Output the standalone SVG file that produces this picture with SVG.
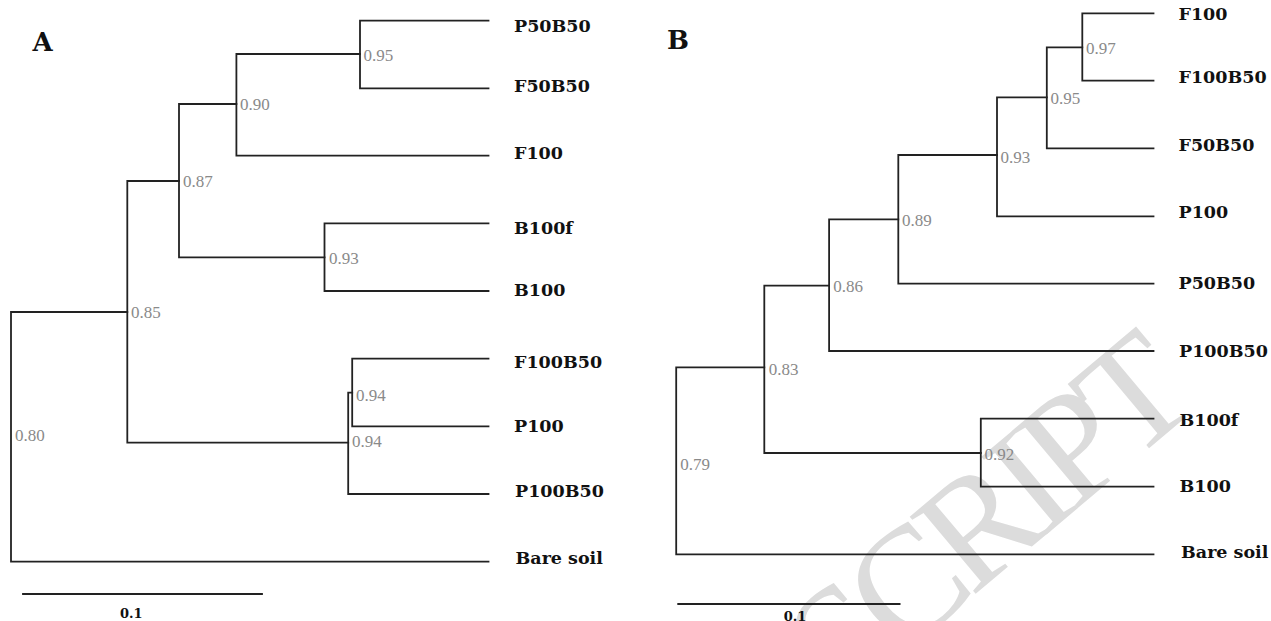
<svg xmlns="http://www.w3.org/2000/svg" width="1271" height="621" viewBox="0 0 1271 621">
<style>
.br{fill:none;stroke:#222;stroke-width:1.8;stroke-linejoin:miter;stroke-linecap:square}
.leaf{font-family:"DejaVu Serif","Liberation Serif",serif;font-weight:bold;font-size:17.5px;fill:#111}
.bs{font-family:"Liberation Serif","DejaVu Serif",serif;font-size:17px;fill:#8a8a8a}
.pl{font-family:"DejaVu Serif","Liberation Serif",serif;font-weight:bold;font-size:26px;fill:#111}
.sc{font-family:"DejaVu Serif","Liberation Serif",serif;font-weight:bold;font-size:13px;fill:#111}
.wm{font-family:"Liberation Serif","Times New Roman",serif;font-size:155px;letter-spacing:-11px;fill:#dcdcdc}
</style>
<rect width="1271" height="621" fill="#fff"/>
<text class="wm" transform="translate(843,705) rotate(-40)">SCRIPT</text>

<g id="connectors">
<path class="br" d="M488.5,20.7H360V88.3H488.5"/>
<path class="br" d="M360,54H236.4V155.7H488.5"/>
<path class="br" d="M236.4,104H179V257.3H324.5"/>
<path class="br" d="M488.5,223.3H324.5V291H488.5"/>
<path class="br" d="M179,181H127.3V442.7H348.2"/>
<path class="br" d="M488.5,358.7H352.2V426.3H488.5"/>
<path class="br" d="M352.2,392.7H348.2V494H488.5"/>
<path class="br" d="M127.3,312H11V561.7H488.5"/>
<path class="br" d="M23,594H262"/>

<path class="br" d="M1153.5,13.3H1082.3V80.7H1153.5"/>
<path class="br" d="M1082.3,47.3H1046.8V148.3H1153.5"/>
<path class="br" d="M1046.8,97.3H997V216.3H1153.5"/>
<path class="br" d="M997,155H898.3V283.7H1153.5"/>
<path class="br" d="M898.3,219.3H829.1V351H1153.5"/>
<path class="br" d="M829.1,285.7H764.3V453H980.8"/>
<path class="br" d="M1153.5,418.7H980.8V486.7H1153.5"/>
<path class="br" d="M764.3,367.3H676.2V554.3H1153.5"/>
<path class="br" d="M678.2,604H899.6"/>
</g>

<g id="panelA-label"><text class="pl" x="32.5" y="51">A</text></g>
<g id="panelB-label"><text class="pl" x="667" y="49.3">B</text></g>

<g id="A-P50B50"><text class="leaf" x="514" y="31.7">P50B50</text></g>
<g id="A-F50B50"><text class="leaf" x="514" y="92.3">F50B50</text></g>
<g id="A-F100"><text class="leaf" x="514" y="159.3">F100</text></g>
<g id="A-B100f"><text class="leaf" x="514" y="234.3">B100f</text></g>
<g id="A-B100"><text class="leaf" x="514" y="296">B100</text></g>
<g id="A-F100B50"><text class="leaf" x="514" y="368.3">F100B50</text></g>
<g id="A-P100"><text class="leaf" x="514" y="431.7">P100</text></g>
<g id="A-P100B50"><text class="leaf" x="515" y="497.3">P100B50</text></g>
<g id="A-Baresoil"><text class="leaf" x="515.5" y="564">Bare soil</text></g>

<g id="A-n095"><text class="bs" x="363.6" y="61">0.95</text></g>
<g id="A-n090"><text class="bs" x="240" y="109.5">0.90</text></g>
<g id="A-n087"><text class="bs" x="183" y="187.3">0.87</text></g>
<g id="A-n093"><text class="bs" x="329" y="264">0.93</text></g>
<g id="A-n085"><text class="bs" x="131" y="318.3">0.85</text></g>
<g id="A-n094a"><text class="bs" x="356" y="400.7">0.94</text></g>
<g id="A-n094b"><text class="bs" x="352" y="447.3">0.94</text></g>
<g id="A-n080"><text class="bs" x="15" y="440.7">0.80</text></g>
<g id="A-scale"><text class="sc" x="120" y="618">0.1</text></g>

<g id="B-F100"><text class="leaf" x="1178.5" y="20">F100</text></g>
<g id="B-F100B50"><text class="leaf" x="1178.5" y="83.3">F100B50</text></g>
<g id="B-F50B50"><text class="leaf" x="1178.5" y="150.7">F50B50</text></g>
<g id="B-P100"><text class="leaf" x="1178.5" y="218.3">P100</text></g>
<g id="B-P50B50"><text class="leaf" x="1178.5" y="288.7">P50B50</text></g>
<g id="B-P100B50"><text class="leaf" x="1179" y="356.7">P100B50</text></g>
<g id="B-B100f"><text class="leaf" x="1179.5" y="426">B100f</text></g>
<g id="B-B100"><text class="leaf" x="1179.5" y="491.7">B100</text></g>
<g id="B-Baresoil"><text class="leaf" x="1181" y="558.3">Bare soil</text></g>

<g id="B-n097"><text class="bs" x="1086" y="54">0.97</text></g>
<g id="B-n095"><text class="bs" x="1050.5" y="104">0.95</text></g>
<g id="B-n093"><text class="bs" x="1000.6" y="162.7">0.93</text></g>
<g id="B-n089"><text class="bs" x="902" y="226">0.89</text></g>
<g id="B-n086"><text class="bs" x="833.2" y="292.3">0.86</text></g>
<g id="B-n083"><text class="bs" x="768.8" y="375">0.83</text></g>
<g id="B-n092"><text class="bs" x="984.6" y="460">0.92</text></g>
<g id="B-n079"><text class="bs" x="680.2" y="470">0.79</text></g>
<g id="B-scale"><text class="sc" x="783.7" y="620.5">0.1</text></g>
</svg>
